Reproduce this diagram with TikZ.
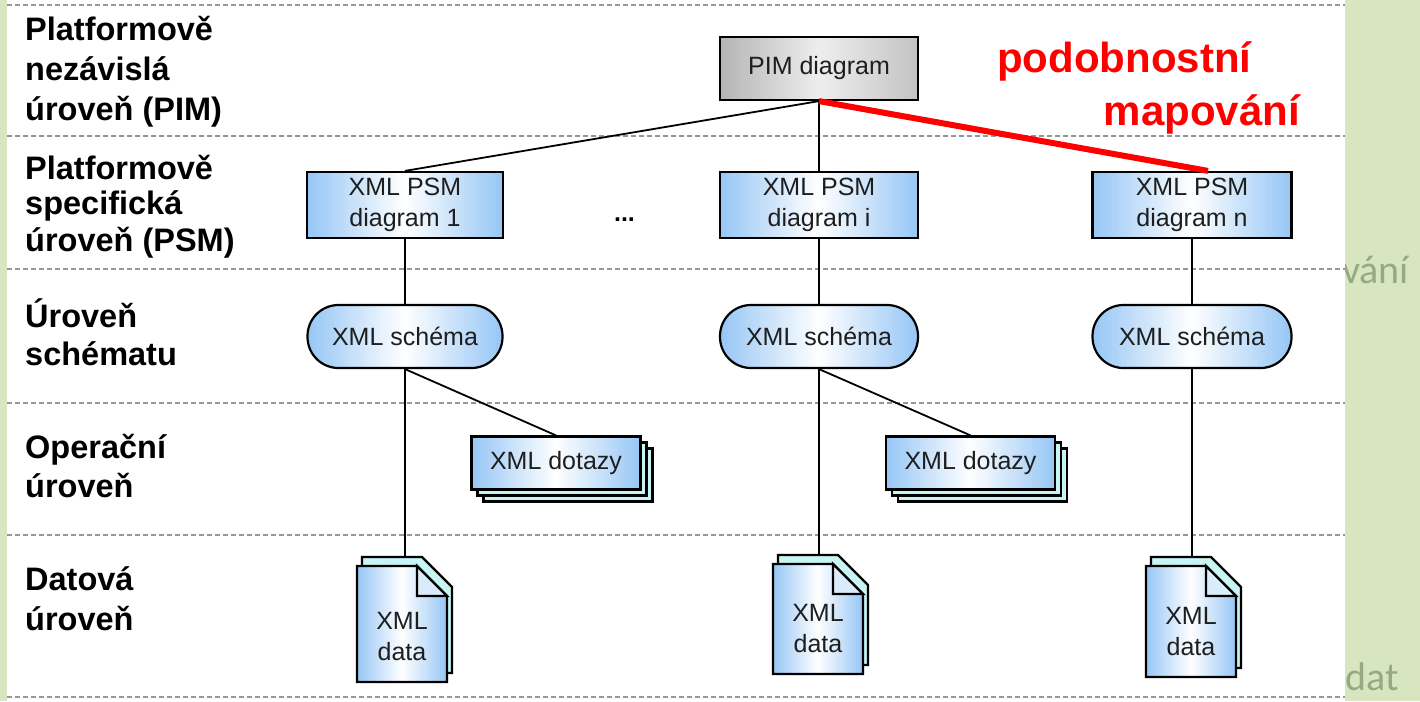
\documentclass[tikz,border=0pt]{standalone}
\usepackage{fontspec}
\setmainfont{Liberation Sans}
\newfontfamily\faintfont{Carlito}

\definecolor{bggreen}{RGB}{215,230,192}
\definecolor{fainttext}{RGB}{150,170,130}
\definecolor{sepgray}{RGB}{150,150,150}
\definecolor{blueedge}{RGB}{150,198,245}
\definecolor{copycyan}{RGB}{200,244,244}
\definecolor{grayedge}{RGB}{180,180,180}
\definecolor{grayright}{RGB}{195,195,195}
\definecolor{graymid}{RGB}{238,238,238}
\definecolor{textdark}{RGB}{30,30,30}
\definecolor{mapred}{RGB}{255,0,0}

% colour schemes for the left-middle-right fills
\colorlet{blueL}{blueedge}\colorlet{blueM}{white}\colorlet{blueR}{blueedge}
\colorlet{grayL}{grayedge}\colorlet{grayM}{graymid}\colorlet{grayR}{grayright}

\newcommand\nodefont{\fontsize{25}{31}\selectfont}
\newcommand\levelfont{\fontsize{32.5}{40}\selectfont\bfseries}
\newcommand\mapfont{\fontsize{42}{50}\selectfont\bfseries}

% vertical strips from x0 to x1, y0 to y1, blending scheme L -> M -> R
\newcommand\stripfill[5]{%
  \foreach \k in {0,...,59}{%
    \pgfmathsetmacro\stript{(\k+0.5)/60}%
    \ifdim\stript pt<0.5pt
      \pgfmathsetmacro\stripp{100*(1-2*\stript)}%
      \colorlet{stripcol}{#5L!\stripp!#5M}%
    \else
      \pgfmathsetmacro\stripp{100*(2*\stript-1)}%
      \colorlet{stripcol}{#5R!\stripp!#5M}%
    \fi
    \pgfmathsetmacro\stripxa{(#1)+((#2)-(#1))*\k/60}%
    \pgfmathsetmacro\stripxb{(#1)+((#2)-(#1))*(\k+1.3)/60}%
    \fill[stripcol] (\stripxa,{#3}) rectangle (\stripxb,{#4});
  }}

% shaded box node: name, cx, cy, width, height, corner radius, scheme, text
\newcommand\shadedbox[8]{%
  \begin{scope}
    \clip[rounded corners=#6] ({#2-#4/2},{#3-#5/2}) rectangle ({#2+#4/2},{#3+#5/2});
    \stripfill{#2-#4/2}{#2+#4/2}{#3-#5/2}{#3+#5/2}{#7}
  \end{scope}
  \node[box, rounded corners=#6, minimum width=#4, minimum height=#5] (#1) at (#2,#3) {#8};
}

% stacked document: name, left x, top depth, height of the front sheet
\newcommand\xmldoc[4]{%
  \draw[docsheet, fill=copycyan]
    (#2+5,-#3+9) -- (#2+65,-#3+9) -- (#2+95,-#3-21) -- (#2+95,-#3-#4+9) -- (#2+5,-#3-#4+9) -- cycle;
  \begin{scope}
    \clip (#2,-#3) -- (#2+60,-#3) -- (#2+90,-#3-30) -- (#2+90,-#3-#4) -- (#2,-#3-#4) -- cycle;
    \stripfill{#2}{#2+90}{-#3}{-#3-#4}{blue}
  \end{scope}
  \draw[docsheet]
    (#2,-#3) -- (#2+60,-#3) -- (#2+90,-#3-30) -- (#2+90,-#3-#4) -- (#2,-#3-#4) -- cycle;
  \draw[docsheet, fill=blueedge!35] (#2+60,-#3) -- (#2+60,-#3-30) -- (#2+90,-#3-30) -- cycle;
  \coordinate (#1top) at (#2+47.5,-#3+9);
  \node[doctext] (#1) at (#2+45,-#3-#4+45) {XML\\data};
}

\begin{document}
\begin{tikzpicture}[x=1pt,y=1pt,
  sep/.style={draw=sepgray, line width=1.5pt, dash pattern=on 5pt off 3pt},
  box/.style={draw=black, line width=2.2pt, inner sep=0pt, align=center, font=\nodefont, text=textdark},
  querycopy/.style={box, fill=copycyan, minimum width=169pt, minimum height=53pt},
  docsheet/.style={draw=black, line width=2.2pt, line join=miter},
  doctext/.style={align=center, font=\nodefont, text=textdark, inner sep=0pt},
  link/.style={draw=black, line width=1.8pt},
  mapping/.style={draw=mapred, line width=6pt},
  level/.style={font=\levelfont, anchor=base west, inner sep=0pt},
  maplabel/.style={font=\mapfont, text=mapred, inner sep=0pt},
  faint/.style={font=\faintfont\fontsize{40}{48}\selectfont, text=fainttext, inner sep=0pt, anchor=base west}]

\useasboundingbox (0,0) rectangle (1420,-701);

% slide background with text running behind the panel
\fill[bggreen] (0,0) rectangle (1420,-701);
\node[faint] (bgword1) at (1342,-283) {vání};
\node[faint] (bgword2) at (1345,-690) {dat};
\fill[white] (7,0) rectangle (1345,-701);

% level separators
\foreach \yy in {5,136,269,403,535,697}
  \draw[sep] (7,-\yy) -- (1345,-\yy);

% level names
\node[level] (l1a) at (25,-41) {Platformově};
\node[level] (l1b) at (25,-81) {nezávislá};
\node[level] (l1c) at (25,-120) {úroveň (PIM)};
\node[level] (l2a) at (25,-179) {Platformově};
\node[level] (l2b) at (25,-214) {specifická};
\node[level] (l2c) at (25,-251) {úroveň (PSM)};
\node[level] (l3a) at (25,-327) {Úroveň};
\node[level] (l3b) at (25,-365) {schématu};
\node[level] (l4a) at (25,-458) {Operační};
\node[level] (l4b) at (25,-497) {úroveň};
\node[level] (l5a) at (25,-590) {Datová};
\node[level] (l5b) at (25,-630) {úroveň};

% PIM and PSM level
\shadedbox{pim}{819}{-68.5}{198}{63}{0pt}{gray}{PIM diagram}
\shadedbox{psm1}{405}{-205}{196}{66}{0pt}{blue}{XML PSM\\diagram 1}
\shadedbox{psmi}{819}{-205}{198}{66}{0pt}{blue}{XML PSM\\diagram i}
\shadedbox{psmn}{1192}{-205}{199}{66}{0pt}{blue}{XML PSM\\diagram n}
\node[font=\nodefont\bfseries, anchor=base, inner sep=0pt] (dots) at (624.5,-221) {...};

% schemas
\shadedbox{sch1}{405}{-336.5}{195}{63}{31pt}{blue}{XML schéma}
\shadedbox{sch2}{819}{-336.5}{198}{63}{31pt}{blue}{XML schéma}
\shadedbox{sch3}{1192}{-336.5}{199}{63}{31pt}{blue}{XML schéma}

% queries
\node[querycopy] (q1c) at (568,-475) {};
\node[querycopy] (q1b) at (562,-469) {};
\shadedbox{q1}{556}{-463}{169}{53}{0pt}{blue}{XML dotazy}
\node[querycopy] (q2c) at (982.5,-475) {};
\node[querycopy] (q2b) at (976.5,-469) {};
\shadedbox{q2}{970.5}{-463}{169}{53}{0pt}{blue}{XML dotazy}

% data documents
\xmldoc{d1}{357}{566}{116}
\xmldoc{d2}{773}{564}{110}
\xmldoc{d3}{1146}{566}{111}

% connectors
\draw[link] (pim.south) -- (psm1.north);
\draw[link] (pim.south) -- (psmi.north);
\draw[link] (psm1.south) -- (sch1.north);
\draw[link] (psmi.south) -- (sch2.north);
\draw[link] (psmn.south) -- (sch3.north);
\draw[link] (sch1.south) -- (sch1.south |- d1top);
\draw[link] (sch2.south) -- (sch2.south |- d2top);
\draw[link] (sch3.south) -- (sch3.south |- d3top);
\draw[link] (sch1.south) -- (q1.north);
\draw[link] (sch2.south) -- (q2.north);
\draw[mapping] (pim.south) -- ([xshift=16pt]psmn.north);

% mapping label
\node[maplabel, anchor=base west] (simlabel) at (997,-72) {podobnostní};
\node[maplabel, anchor=base east] (maplabel) at (1300,-125) {mapování};

\end{tikzpicture}
\end{document}
